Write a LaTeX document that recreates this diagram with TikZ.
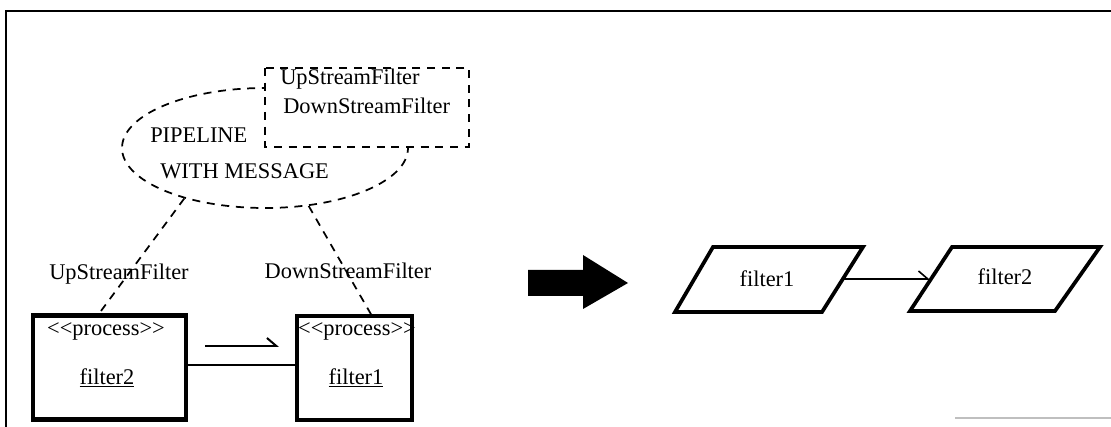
\documentclass[tikz,border=0pt]{standalone}
\usepackage{fontspec}
\setmainfont{Liberation Serif}
\usetikzlibrary{arrows.meta,shapes.geometric}
\begin{document}
\begin{tikzpicture}[x=0.75pt,y=-0.75pt,
  txt/.style={font=\fontsize{16.8}{19}\selectfont, inner sep=0pt},
  dashline/.style={line width=1.3pt, dash pattern=on 6pt off 5pt},
  procbox/.style={draw, line width=3.3pt, inner sep=0pt, minimum width=114.75pt, minimum height=78pt},
  plainline/.style={line width=1.2pt},
  shape frame/.style={line width=2.8pt, line join=miter}
]
\useasboundingbox (0,0) rectangle (1111,427);

% outer frame (top and left edges)
\draw[line width=1.5pt] (6,427) -- (6,11) -- (1111,11);
\draw[line width=1.2pt, black!25] (955,418) -- (1111,418);

% collaboration ellipse with its parameter box
\node[ellipse, dashline, draw, minimum width=214.5pt, minimum height=90pt, inner sep=0pt] (pipe) at (265,148) {};
\fill[white] (265,68) rectangle (469,147);
\draw[dashline] (265,68) rectangle (469,147);
\node[txt, anchor=west] (pup) at (280,79) {UpStreamFilter};
\node[txt, anchor=west] (pdown) at (283,106) {DownStreamFilter};
\node[txt, anchor=west] (pl1) at (150,135) {PIPELINE};
\node[txt, anchor=west] (pl2) at (160,171) {WITH MESSAGE};

% process boxes
\node[procbox] (f2box) at (109.5,367.5) {};
\node[procbox, minimum width=86.25pt] (f1box) at (354.5,368) {};
\node[txt] (f2st) at (106,331) {<{}<process>{}>};
\node[txt] (f2name) at (107,378) {\underline{filter2}};
\node[txt] (f1st) at (357,331) {<{}<process>{}>};
\node[txt] (f1name) at (356,378) {\underline{filter1}};

% role bindings
\coordinate (upend) at (98,315);
\coordinate (downend) at (372,316);
\draw[dashline] (pipe.212.8) -- (upend);
\draw[dashline] (pipe.307.7) -- (downend);
\node[txt] (uplabel) at (119,274) {UpStreamFilter};
\node[txt] (downlabel) at (348,271) {DownStreamFilter};

% link and message direction
\draw[plainline] (f2box.east |- 0,365) -- (f1box.west |- 0,365);
\coordinate (msgs) at (205,346);
\coordinate (msge) at (279,346);
\draw[line width=1.5pt, -{Straight Barb[left, length=7pt, width=12pt]}] (msgs) -- (msge);

% transformation arrow
\fill (528,270) -- (583,270) -- (583,255) -- (628,283) -- (583,309) -- (583,296) -- (528,296) -- cycle;

% resulting pipeline
\draw[shape frame] (713,247) -- (863,247) -- (822,312) -- (675,312) -- cycle;
\draw[shape frame] (952,247) -- (1100,247) -- (1055,311) -- (910,311) -- cycle;
\node[txt] (pf1) at (767,279) {filter1};
\node[txt] (pf2) at (1005,277) {filter2};
\coordinate (pf1e) at (843,279);
\coordinate (pf2w) at (930,279);
\draw[plainline, -{Straight Barb[left, length=7pt, width=12pt]}] (pf1e) -- (pf2w);
\end{tikzpicture}
\end{document}
